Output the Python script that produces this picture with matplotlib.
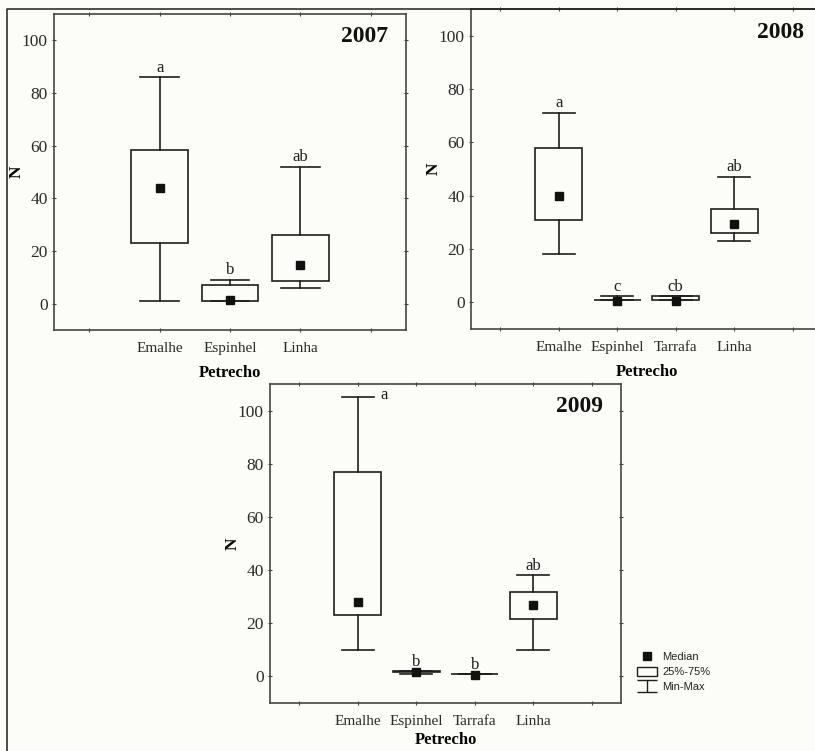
import numpy as np
import matplotlib
matplotlib.use('Agg')
import matplotlib.pyplot as plt
from matplotlib.lines import Line2D
from matplotlib.patches import Rectangle
from matplotlib.path import Path

plt.rcParams['font.family'] = 'Liberation Serif'

# 2007
cats_2007 = ['Emalhe', 'Espinhel', 'Linha']
min_2007 = [1, 1, 6]
q1_2007 = [23, 1, 8.5]
med_2007 = [44, 1.5, 14.5]
q3_2007 = [58.5, 7, 26]
max_2007 = [86, 9, 52]
letters_2007 = ['a', 'b', 'ab']

# 2008
cats_2008 = ['Emalhe', 'Espinhel', 'Tarrafa', 'Linha']
min_2008 = [18, 1, 0.8, 23]
q1_2008 = [31, 1, 0.8, 26]
med_2008 = [40, 0.5, 0.5, 29.5]
q3_2008 = [58, 1, 2.2, 35]
max_2008 = [71, 2.2, 2.2, 47]
letters_2008 = ['a', 'c', 'cb', 'ab']

# 2009
cats_2009 = ['Emalhe', 'Espinhel', 'Tarrafa', 'Linha']
min_2009 = [10, 1, 0.8, 10]
q1_2009 = [23, 1.7, 0.8, 21.7]
med_2009 = [28, 1.6, 0.5, 27]
q3_2009 = [77, 2, 0.8, 31.7]
max_2009 = [105, 2, 0.8, 38]
letters_2009 = ['a', 'b', 'b', 'ab']

bg = '#fcfcf8'
ink = '#1e1e1e'
spine = '#454545'

W, H = 815.0, 751.0
fig = plt.figure(figsize=(8.15, 7.51), dpi=100, facecolor=bg)


def draw_panel(rect_px, year, cats, mins, q1s, meds, q3s, maxs, letters, xpad=7):
    left, top, right, bottom = rect_px
    ax = fig.add_axes([left / W, 1 - bottom / H, (right - left) / W, (bottom - top) / H], facecolor=bg)
    pos = np.arange(1, len(cats) + 1)
    stats = [dict(whislo=lo, q1=a, med=m, q3=b, whishi=hi)
             for lo, a, m, b, hi in zip(mins, q1s, meds, q3s, maxs)]
    ax.bxp(stats, positions=pos, widths=0.8, capwidths=0.55, showfliers=False,
           patch_artist=True,
           boxprops=dict(facecolor=bg, edgecolor=ink, linewidth=1.2),
           whiskerprops=dict(color=ink, linewidth=1.2),
           capprops=dict(color=ink, linewidth=1.2),
           medianprops=dict(visible=False))
    ax.plot(pos, meds, 's', color='#111111', markersize=5.5, zorder=5)

    ax.set_xlim(-0.5, len(cats) + 1.5)
    ax.set_ylim(-10, 110)
    ax.set_xticks(np.arange(0, len(cats) + 2))
    ax.set_xticklabels([''] + cats + [''])
    ax.set_yticks(np.arange(0, 101, 20))
    ax.tick_params(direction='inout', length=3, width=0.8, color=spine,
                   top=True, right=True, labelcolor='#2a2a2a')
    ax.tick_params(axis='x', labelsize=11, pad=7)
    ax.tick_params(axis='y', labelsize=12.5, pad=3)
    for s in ax.spines.values():
        s.set_color(spine)
        s.set_linewidth(1.2)

    ax.set_xlabel('Petrecho', fontsize=12, fontweight='bold', labelpad=xpad)
    ax.set_ylabel('N', fontsize=12.5, fontweight='bold', labelpad=-2)

    for p, hi, lab in zip(pos, maxs, letters):
        if hi + 10 > 110:
            ax.annotate(lab, xy=(p + 0.27, hi), xytext=(5, 2), textcoords='offset points',
                        ha='left', va='center', fontsize=12, color=ink)
        else:
            ax.annotate(lab, xy=(p, hi), xytext=(0, 4), textcoords='offset points',
                        ha='center', va='baseline', fontsize=12, color=ink)

    ax.annotate(year, xy=(1, 1), xycoords='axes fraction', xytext=(-13, -9),
                textcoords='offset points', ha='right', va='top',
                fontsize=17, fontweight='bold', color='#111111')
    return ax


draw_panel((54, 14, 406, 330), '2007', cats_2007, min_2007, q1_2007, med_2007, q3_2007, max_2007, letters_2007)
draw_panel((471, 9, 822, 329), '2008', cats_2008, min_2008, q1_2008, med_2008, q3_2008, max_2008, letters_2008)
draw_panel((270, 384, 621, 703), '2009', cats_2009, min_2009, q1_2009, med_2009, q3_2009, max_2009, letters_2009,
           xpad=3)

# outer frame (left and top edges)
fig.add_artist(Line2D([7 / W, 7 / W, 1], [0, 1 - 9 / H, 1 - 9 / H],
                      transform=fig.transFigure, color=ink, linewidth=1.1))

# legend
ibeam = Path([(-1, 0.65), (1, 0.65), (0, 0.65), (0, -0.65), (-1, -0.65), (1, -0.65)],
             [Path.MOVETO, Path.LINETO, Path.MOVETO, Path.LINETO, Path.MOVETO, Path.LINETO])
handles = [
    Line2D([], [], ls='none', marker='s', color='#111111', markersize=5.5),
    Rectangle((0, 0), 1, 1, facecolor=bg, edgecolor=ink, linewidth=1.0),
    Line2D([], [], ls='none', marker=ibeam, markersize=14, markerfacecolor='none',
           markeredgecolor=ink, markeredgewidth=1.0),
]
fig.legend(handles, ['Median', '25%-75%', 'Min-Max'], loc='upper left',
           bbox_to_anchor=(637 / W, 1 - 652 / H), frameon=False,
           prop=dict(family='Liberation Sans', size=8),
           handlelength=1.8, handleheight=0.9, handletextpad=0.5,
           labelspacing=0.4, borderpad=0, borderaxespad=0, labelcolor='#222222')

fig.savefig('out.png', dpi=100, facecolor=bg)
